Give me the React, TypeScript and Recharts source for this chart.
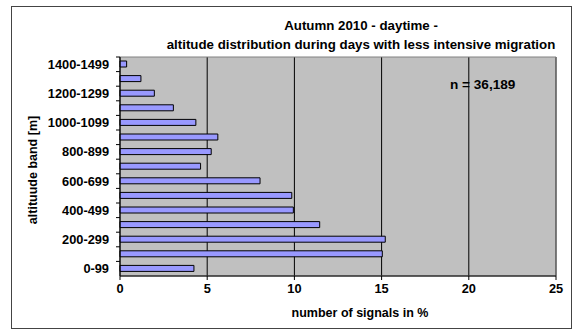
import React from "react";
import { BarChart, Bar, XAxis, YAxis, CartesianGrid, ReferenceArea } from "recharts";

const bands = [
  "0-99", "100-199", "200-299", "300-399", "400-499", "500-599", "600-699", "700-799",
  "800-899", "900-999", "1000-1099", "1100-1199", "1200-1299", "1300-1399", "1400-1499",
];
const shares = [4.24, 15.04, 15.21, 11.45, 9.94, 9.85, 8.03, 4.62, 5.23, 5.61, 4.35, 3.06, 1.97, 1.2, 0.38];
const xTicks = [0, 5, 10, 15, 20, 25];

const data = bands.map((band, i) => ({ band, share: shares[i] }));

const W = 576;
const H = 333;
const MARGIN = { top: 57, right: 20, bottom: 27, left: 0 };
const X_AXIS_H = 30;
const plotH = H - MARGIN.top - MARGIN.bottom - X_AXIS_H;
const halfBand = plotH / bands.length / 2;

const font = "'Liberation Sans', Arial, sans-serif";
const txt: React.CSSProperties = {
  position: "absolute", fontFamily: font, fontWeight: "bold", fontSize: 12.5, color: "#000", whiteSpace: "nowrap",
};

function BandTick(props: any) {
  const { x, y, payload } = props;
  const idx = bands.indexOf(payload.value);
  return (
    <g>
      <line x1={x - 4} x2={x} y1={y - halfBand} y2={y - halfBand} stroke="#000" />
      {idx % 2 === 0 && (
        <text x={x - 11} y={y} dy="0.355em" textAnchor="end" fontFamily={font} fontWeight="bold" fontSize={12.8} fill="#000">
          {payload.value}
        </text>
      )}
    </g>
  );
}

export default function App() {
  return (
    <div style={{ position: "absolute", left: 0, top: 0, width: W, height: H, background: "#fff" }}>
      <div style={{ position: "absolute", left: 11, top: 6, width: 559, height: 321, border: "1px solid #444" }} />
      <BarChart
        width={W}
        height={H}
        data={data}
        layout="vertical"
        margin={MARGIN}
        barSize={6}
        style={{ position: "absolute", left: 0, top: 0 }}
      >
        <CartesianGrid fill="#C0C0C0" stroke="#000" horizontal={false} vertical />
        <XAxis
          type="number"
          domain={[0, 25]}
          ticks={xTicks}
          height={X_AXIS_H}
          stroke="#000"
          tickSize={4}
          tickMargin={4}
          tick={{ fontFamily: font, fontWeight: "bold", fontSize: 12.8, fill: "#000" }}
        />
        <YAxis
          type="category"
          dataKey="band"
          reversed
          width={120}
          interval={0}
          stroke="#000"
          tickLine={false}
          tickSize={0}
          tickMargin={0}
          tick={<BandTick />}
        />
        <ReferenceArea x1={0} x2={25} fill="none" stroke="#808080" />
        <Bar dataKey="share" fill="#9999FF" stroke="#000" strokeWidth={1} isAnimationActive={false} />
      </BarChart>
      <div style={{ ...txt, fontSize: 13.3, left: 0, width: 722, top: 16, textAlign: "center", lineHeight: "19px" }}>
        Autumn 2010 - daytime -<br />altitude distribution during days with less intensive migration
      </div>
      <div style={{ ...txt, fontSize: 13.6, left: 450, top: 77 }}>n = 36,189</div>
      <div style={{ ...txt, left: 0, width: 720, top: 306, textAlign: "center" }}>number of signals in %</div>
      <div style={{ ...txt, left: 33, top: 170, transform: "translate(-50%, -50%) rotate(-90deg)" }}>altituude band [m]</div>
    </div>
  );
}
